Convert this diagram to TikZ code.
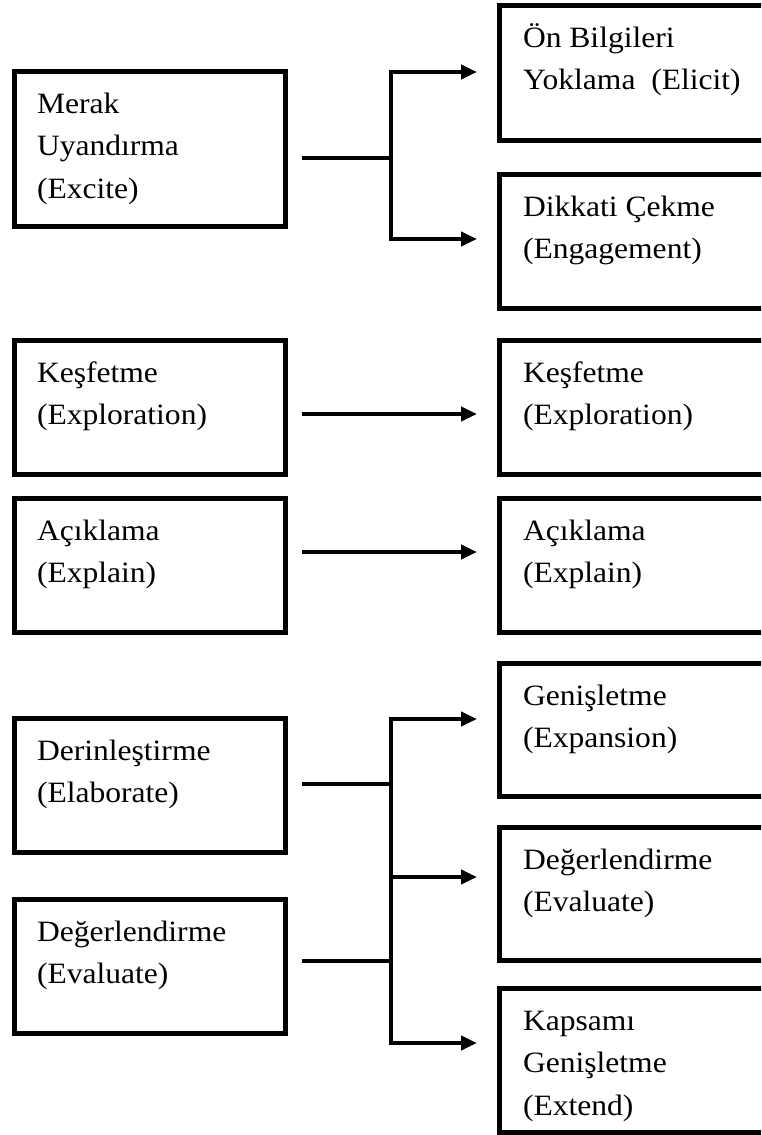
\documentclass[tikz,border=0pt]{standalone}
\usepackage{fontspec}
\setmainfont{Liberation Serif}[FakeStretch=1.07]
\usetikzlibrary{arrows.meta,calc}

\tikzset{
  stage/.style={draw=black, line width=5pt, rectangle, inner sep=0pt},
  lstage/.style={stage, minimum width=271pt},
  rstage/.style={stage, minimum width=298pt},
  caption/.style={anchor=base west, inner sep=0pt, outer sep=0pt,
    font=\fontsize{29.5pt}{42.5pt}\selectfont},
  link/.style={line width=4pt, line join=miter},
  tip/.style={-{Triangle[length=16pt,width=14pt]}, shorten >=20pt},
  twotips/.style={{Triangle[length=16pt,width=14pt]}-{Triangle[length=16pt,width=14pt]},
    shorten >=20pt, shorten <=20pt}
}
\newcommand\stagetext[1]{\parbox[t]{300pt}{\raggedright #1}}

\begin{document}
\begin{tikzpicture}[x=1pt, y=-1pt]
\useasboundingbox (0,0) rectangle (761,1135);
\clip (0,0) rectangle (761,1135);

% left column of stages
\node[lstage, minimum height=155pt] (L1) at (150,149)   {};
\node[lstage, minimum height=134pt] (L2) at (150,407.5) {};
\node[lstage, minimum height=134pt] (L3) at (150,565.5) {};
\node[lstage, minimum height=134pt] (L4) at (150,785.5) {};
\node[lstage, minimum height=134pt] (L5) at (150,966.5) {};

% right column of stages (running off the right edge)
\node[rstage, minimum height=135pt] (R1) at (648.5,73)     {};
\node[rstage, minimum height=134pt] (R2) at (648.5,241.5)  {};
\node[rstage, minimum height=134pt] (R3) at (648.5,407.5)  {};
\node[rstage, minimum height=134pt] (R4) at (648.5,565.5)  {};
\node[rstage, minimum height=133pt] (R5) at (648.5,730)    {};
\node[rstage, minimum height=133pt] (R6) at (648.5,894)    {};
\node[rstage, minimum height=144pt] (R7) at (648.5,1060.5) {};

% captions
\node[caption] (L1t) at ($(L1.north west)+(25,44)$) {\stagetext{Merak\\Uyandırma\\(Excite)}};
\node[caption] (L2t) at ($(L2.north west)+(25,44)$) {\stagetext{Keşfetme\\(Exploration)}};
\node[caption] (L3t) at ($(L3.north west)+(25,44)$) {\stagetext{Açıklama\\(Explain)}};
\node[caption] (L4t) at ($(L4.north west)+(25,44)$) {\stagetext{Derinleştirme\\(Elaborate)}};
\node[caption] (L5t) at ($(L5.north west)+(25,44)$) {\stagetext{Değerlendirme\\(Evaluate)}};

\node[caption] (R1t) at ($(R1.north west)+(26,44)$) {\stagetext{Ön Bilgileri\\Yoklama\ \ (Elicit)}};
\node[caption] (R2t) at ($(R2.north west)+(26,44)$) {\stagetext{Dikkati Çekme\\(Engagement)}};
\node[caption] (R3t) at ($(R3.north west)+(26,44)$) {\stagetext{Keşfetme\\(Exploration)}};
\node[caption] (R4t) at ($(R4.north west)+(26,44)$) {\stagetext{Açıklama\\(Explain)}};
\node[caption] (R5t) at ($(R5.north west)+(26,44)$) {\stagetext{Genişletme\\(Expansion)}};
\node[caption] (R6t) at ($(R6.north west)+(26,44)$) {\stagetext{Değerlendirme\\(Evaluate)}};
\node[caption] (R7t) at ($(R7.north west)+(26,44)$) {\stagetext{Kapsamı\\Genişletme\\(Extend)}};

% connector start points beside the left stages
\coordinate (s1) at ($(L1.east)+(14,9)$);
\coordinate (s2) at ($(L2.east)+(14,6.5)$);
\coordinate (s3) at ($(L3.east)+(14,-13.5)$);
\coordinate (s4) at ($(L4.east)+(14,-1.5)$);
\coordinate (s5) at ($(L5.east)+(14,-5.5)$);

% branch points on the vertical bars
\coordinate (b1) at (391,72);
\coordinate (b2) at (391,239);
\coordinate (b3) at (391,719);
\coordinate (b4) at (391,877);
\coordinate (b5) at (391,1043);

% Excite branches into Elicit and Engagement
\draw[link, twotips] (b1 -| R1.west) -- (b1) -- (b2) -- (b2 -| R2.west);
\draw[link] (s1) -- (s1 -| b1);

% one-to-one stages
\draw[link, tip] (s2) -- (s2 -| R3.west);
\draw[link, tip] (s3) -- (s3 -| R4.west);

% Elaborate and Evaluate branch into three stages
\draw[link, twotips] (b3 -| R5.west) -- (b3) -- (b5) -- (b5 -| R7.west);
\draw[link, tip] (b4) -- (b4 -| R6.west);
\draw[link] (s4) -- (s4 -| b3);
\draw[link] (s5) -- (s5 -| b3);
\end{tikzpicture}
\end{document}
